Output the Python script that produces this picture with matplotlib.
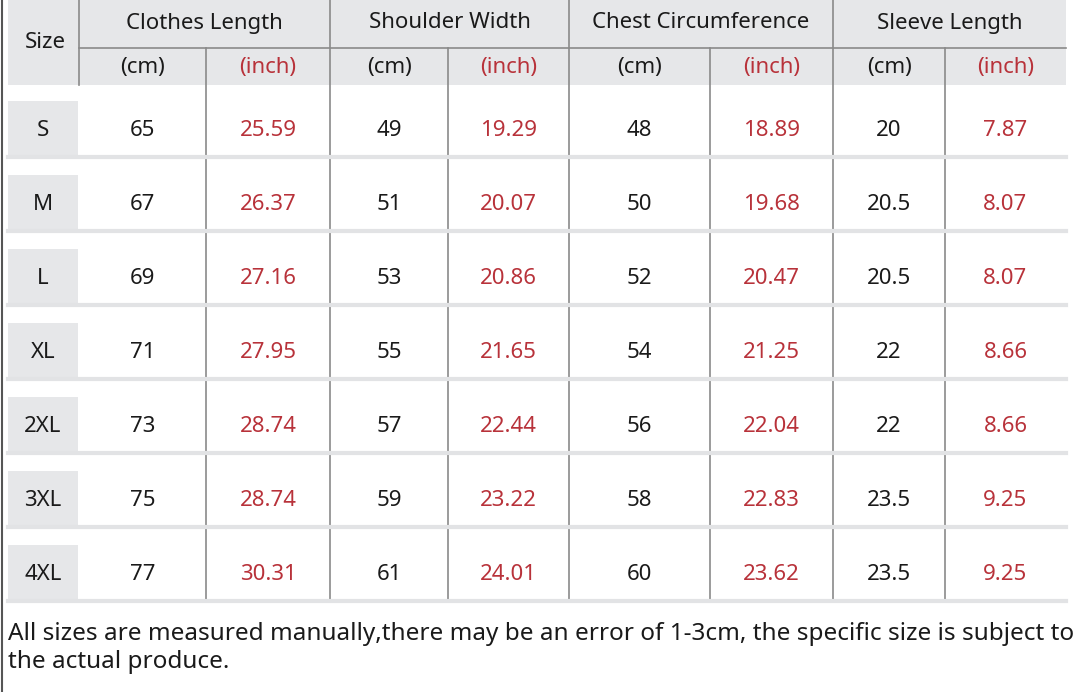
import matplotlib.pyplot as plt

plt.rcParams['font.family'] = ['Noto Sans', 'DejaVu Sans']

sizes = ['S', 'M', 'L', 'XL', '2XL', '3XL', '4XL']
groups = ['Clothes Length', 'Shoulder Width', 'Chest Circumference', 'Sleeve Length']
clothes_cm = ['65', '67', '69', '71', '73', '75', '77']
clothes_in = ['25.59', '26.37', '27.16', '27.95', '28.74', '28.74', '30.31']
shoulder_cm = ['49', '51', '53', '55', '57', '59', '61']
shoulder_in = ['19.29', '20.07', '20.86', '21.65', '22.44', '23.22', '24.01']
chest_cm = ['48', '50', '52', '54', '56', '58', '60']
chest_in = ['18.89', '19.68', '20.47', '21.25', '22.04', '22.83', '23.62']
sleeve_cm = ['20', '20.5', '20.5', '22', '22', '23.5', '23.5']
sleeve_in = ['7.87', '8.07', '8.07', '8.66', '8.66', '9.25', '9.25']
note = ('All sizes are measured manually,there may be an error of 1-3cm, the specific size is subject to\n'
        'the actual produce.')

columns = [clothes_cm, clothes_in, shoulder_cm, shoulder_in,
           chest_cm, chest_in, sleeve_cm, sleeve_in]

W, H = 1081, 692
fig = plt.figure(figsize=(W / 100, H / 100), dpi=100)
ax = fig.add_axes([0, 0, 1, 1])
ax.set_xlim(0, W)
ax.set_ylim(H, 0)
ax.axis('off')

HEAD_BG = '#e6e7e9'
LINE = '#8a8a8a'
RED = '#b8323a'
TXT = '#1a1a1a'

# column borders in pixels
edges = [79, 206, 330, 448, 569, 710, 833, 945, 1066]
row_top = 94
row_h = 74
bottom = row_top + row_h * (len(sizes) - 1) + 63

# header block
ax.add_patch(plt.Rectangle((8, 0), 1066 - 8, 85, color=HEAD_BG, lw=0))
ax.plot([79, 1066], [48, 48], color=LINE, lw=1.2)
ax.plot([79, 79], [0, 85], color=LINE, lw=1.2)
ax.plot([2, 2], [0, H], color='#555555', lw=1.5)
ax.text(45, 42, 'Size', ha='center', va='center', fontsize=16, color=TXT)

for g, name in enumerate(groups):
    x0, x1, x2 = edges[2 * g], edges[2 * g + 1], edges[2 * g + 2]
    ax.text((x0 + x2) / 2, 23, name, ha='center', va='center', fontsize=16, color=TXT)
    ax.text((x0 + x1) / 2, 68, '(cm)', ha='center', va='center', fontsize=16, color=TXT)
    ax.text((x1 + x2) / 2, 68, '(inch)', ha='center', va='center', fontsize=16, color=RED)

# vertical lines
for i, x in enumerate(edges[1:-1]):
    top = 0 if i % 2 == 1 else 48
    ax.plot([x, x], [top, bottom], color=LINE, lw=1.2)

# rows
for r, s in enumerate(sizes):
    y0 = row_top + r * row_h
    yc = y0 + 36
    ax.add_patch(plt.Rectangle((8, y0 + 7), 70, 55, color=HEAD_BG, lw=0))
    ax.plot([8, 1066], [y0 + 63, y0 + 63], color='#e2e3e5', lw=3)
    ax.text(43, yc, s, ha='center', va='center', fontsize=16, color=TXT)
    for c, col in enumerate(columns):
        xc = (edges[c] + edges[c + 1]) / 2
        ax.text(xc, yc, col[r], ha='center', va='center', fontsize=16,
                color=RED if c % 2 else TXT)

ax.text(8, 648, note, ha='left', va='center', fontsize=17.5, color=TXT, linespacing=1.25)

fig.savefig('out.png', dpi=100)
